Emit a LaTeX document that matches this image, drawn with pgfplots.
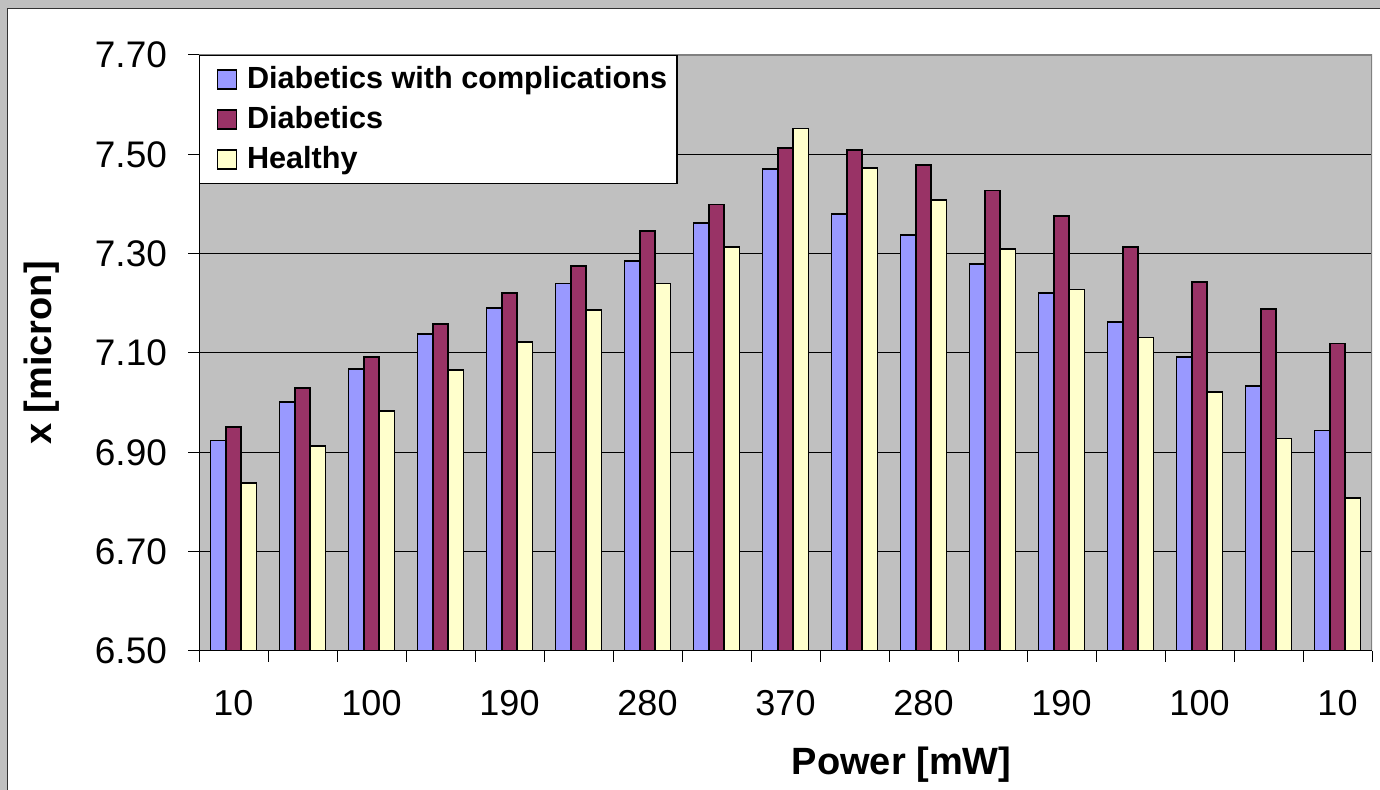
\documentclass[border=0pt]{standalone}
\usepackage{fontspec}
\setmainfont{Liberation Sans}
\usepackage{pgfplots}
\usepackage{pgfplotstable}
\pgfplotsset{compat=1.18}

\definecolor{plotgray}{HTML}{C0C0C0}
\definecolor{frameGray}{HTML}{808080}
\definecolor{barBlue}{HTML}{9999FF}
\definecolor{barPlum}{HTML}{993366}
\definecolor{barCream}{HTML}{FFFFCC}

% group index, complications, diabetics, healthy
\pgfplotstableread{
idx comp diab healthy
0  6.924 6.951 6.838
1  7.002 7.029 6.913
2  7.068 7.092 6.983
3  7.139 7.158 7.065
4  7.190 7.221 7.122
5  7.240 7.275 7.186
6  7.286 7.345 7.240
7  7.361 7.399 7.314
8  7.470 7.513 7.552
9  7.380 7.509 7.473
10 7.337 7.478 7.408
11 7.279 7.427 7.310
12 7.220 7.376 7.228
13 7.162 7.314 7.131
14 7.092 7.243 7.021
15 7.034 7.189 6.928
16 6.944 7.119 6.808
}\sizedata

\begin{document}
\begin{tikzpicture}
\path[use as bounding box] (0,0) rectangle (690pt,395pt);
\fill[plotgray] (0,0) rectangle (690pt,395pt);
\fill[white] (3.75pt,0) rectangle (690pt,390.75pt);
\draw[black!80, line width=0.7pt] (3.75pt,0) -- (3.75pt,390.75pt) -- (690pt,390.75pt);

\begin{axis}[
  at={(99.5pt,69.5pt)}, anchor=south west,
  scale only axis,
  width=586.5pt, height=298pt,
  xmin=-0.5, xmax=16.5,
  ymin=6.5, ymax=7.7,
  axis background/.style={fill=plotgray},
  axis line style={draw=none},
  ybar, bar width=0.222,
  ytick={6.5,6.7,...,7.71},
  ymajorgrids,
  major grid style={black, line width=0.5pt},
  tick align=outside,
  xtick pos=bottom, ytick pos=left,
  major tick length=5.5pt,
  tick style={black, line width=0.5pt},
  /pgf/number format/assume math mode=true,
  yticklabel={\pgfmathprintnumber[fixed, fixed zerofill, precision=2]{\tick}},
  yticklabel style={font=\fontsize{18.5}{20}\selectfont, xshift=-7pt},
  xtick={-0.5,0.5,...,16.6},
  xticklabels={},
  extra x ticks={0,2,...,16},
  extra x tick labels={10,100,190,280,370,280,190,100,10},
  extra x tick style={major tick length=0pt, grid=none,
    xticklabel style={font=\fontsize{18}{20}\selectfont, yshift=-16pt}},
  xlabel={Power [mW]},
  ylabel={x [micron]},
  xlabel style={font=\fontsize{19}{21}\selectfont\bfseries,
    at={(rel axis cs:0.599,-0.19)}, anchor=center},
  ylabel style={font=\fontsize{19}{21}\selectfont\bfseries,
    at={(rel axis cs:-0.134,0.5)}, anchor=center},
  legend style={at={(0,1)}, anchor=north west, draw=black, fill=white,
    line width=0.6pt,
    font=\fontsize{15.3}{17}\selectfont\bfseries,
    inner xsep=5pt, inner ysep=5.5pt, row sep=7.1pt, column sep=5pt,
    nodes={inner sep=0pt, text height=11.2pt, text depth=1.7pt}},
  legend cell align=left,
  legend image code/.code={%
    \path (0pt,0pt);
    \draw[#1, draw=black, line width=0.6pt] (3.5pt,-4.75pt) rectangle (13pt,4.75pt);},
]
\addplot[fill=barBlue, draw=black, line width=0.9pt, bar shift=-0.222] table[x=idx, y=comp] {\sizedata};
\addplot[fill=barPlum, draw=black, line width=0.9pt, bar shift=0] table[x=idx, y=diab] {\sizedata};
\addplot[fill=barCream, draw=black, line width=0.9pt, bar shift=0.222] table[x=idx, y=healthy] {\sizedata};
\legend{Diabetics with complications, Diabetics, Healthy}

\draw[frameGray, line width=0.7pt] (rel axis cs:0,1) -- (rel axis cs:1,1) -- (rel axis cs:1,0);
\draw[black, line width=0.7pt] (rel axis cs:0,1) -- (rel axis cs:0,0) -- (rel axis cs:1,0);
\end{axis}
\end{tikzpicture}
\end{document}
